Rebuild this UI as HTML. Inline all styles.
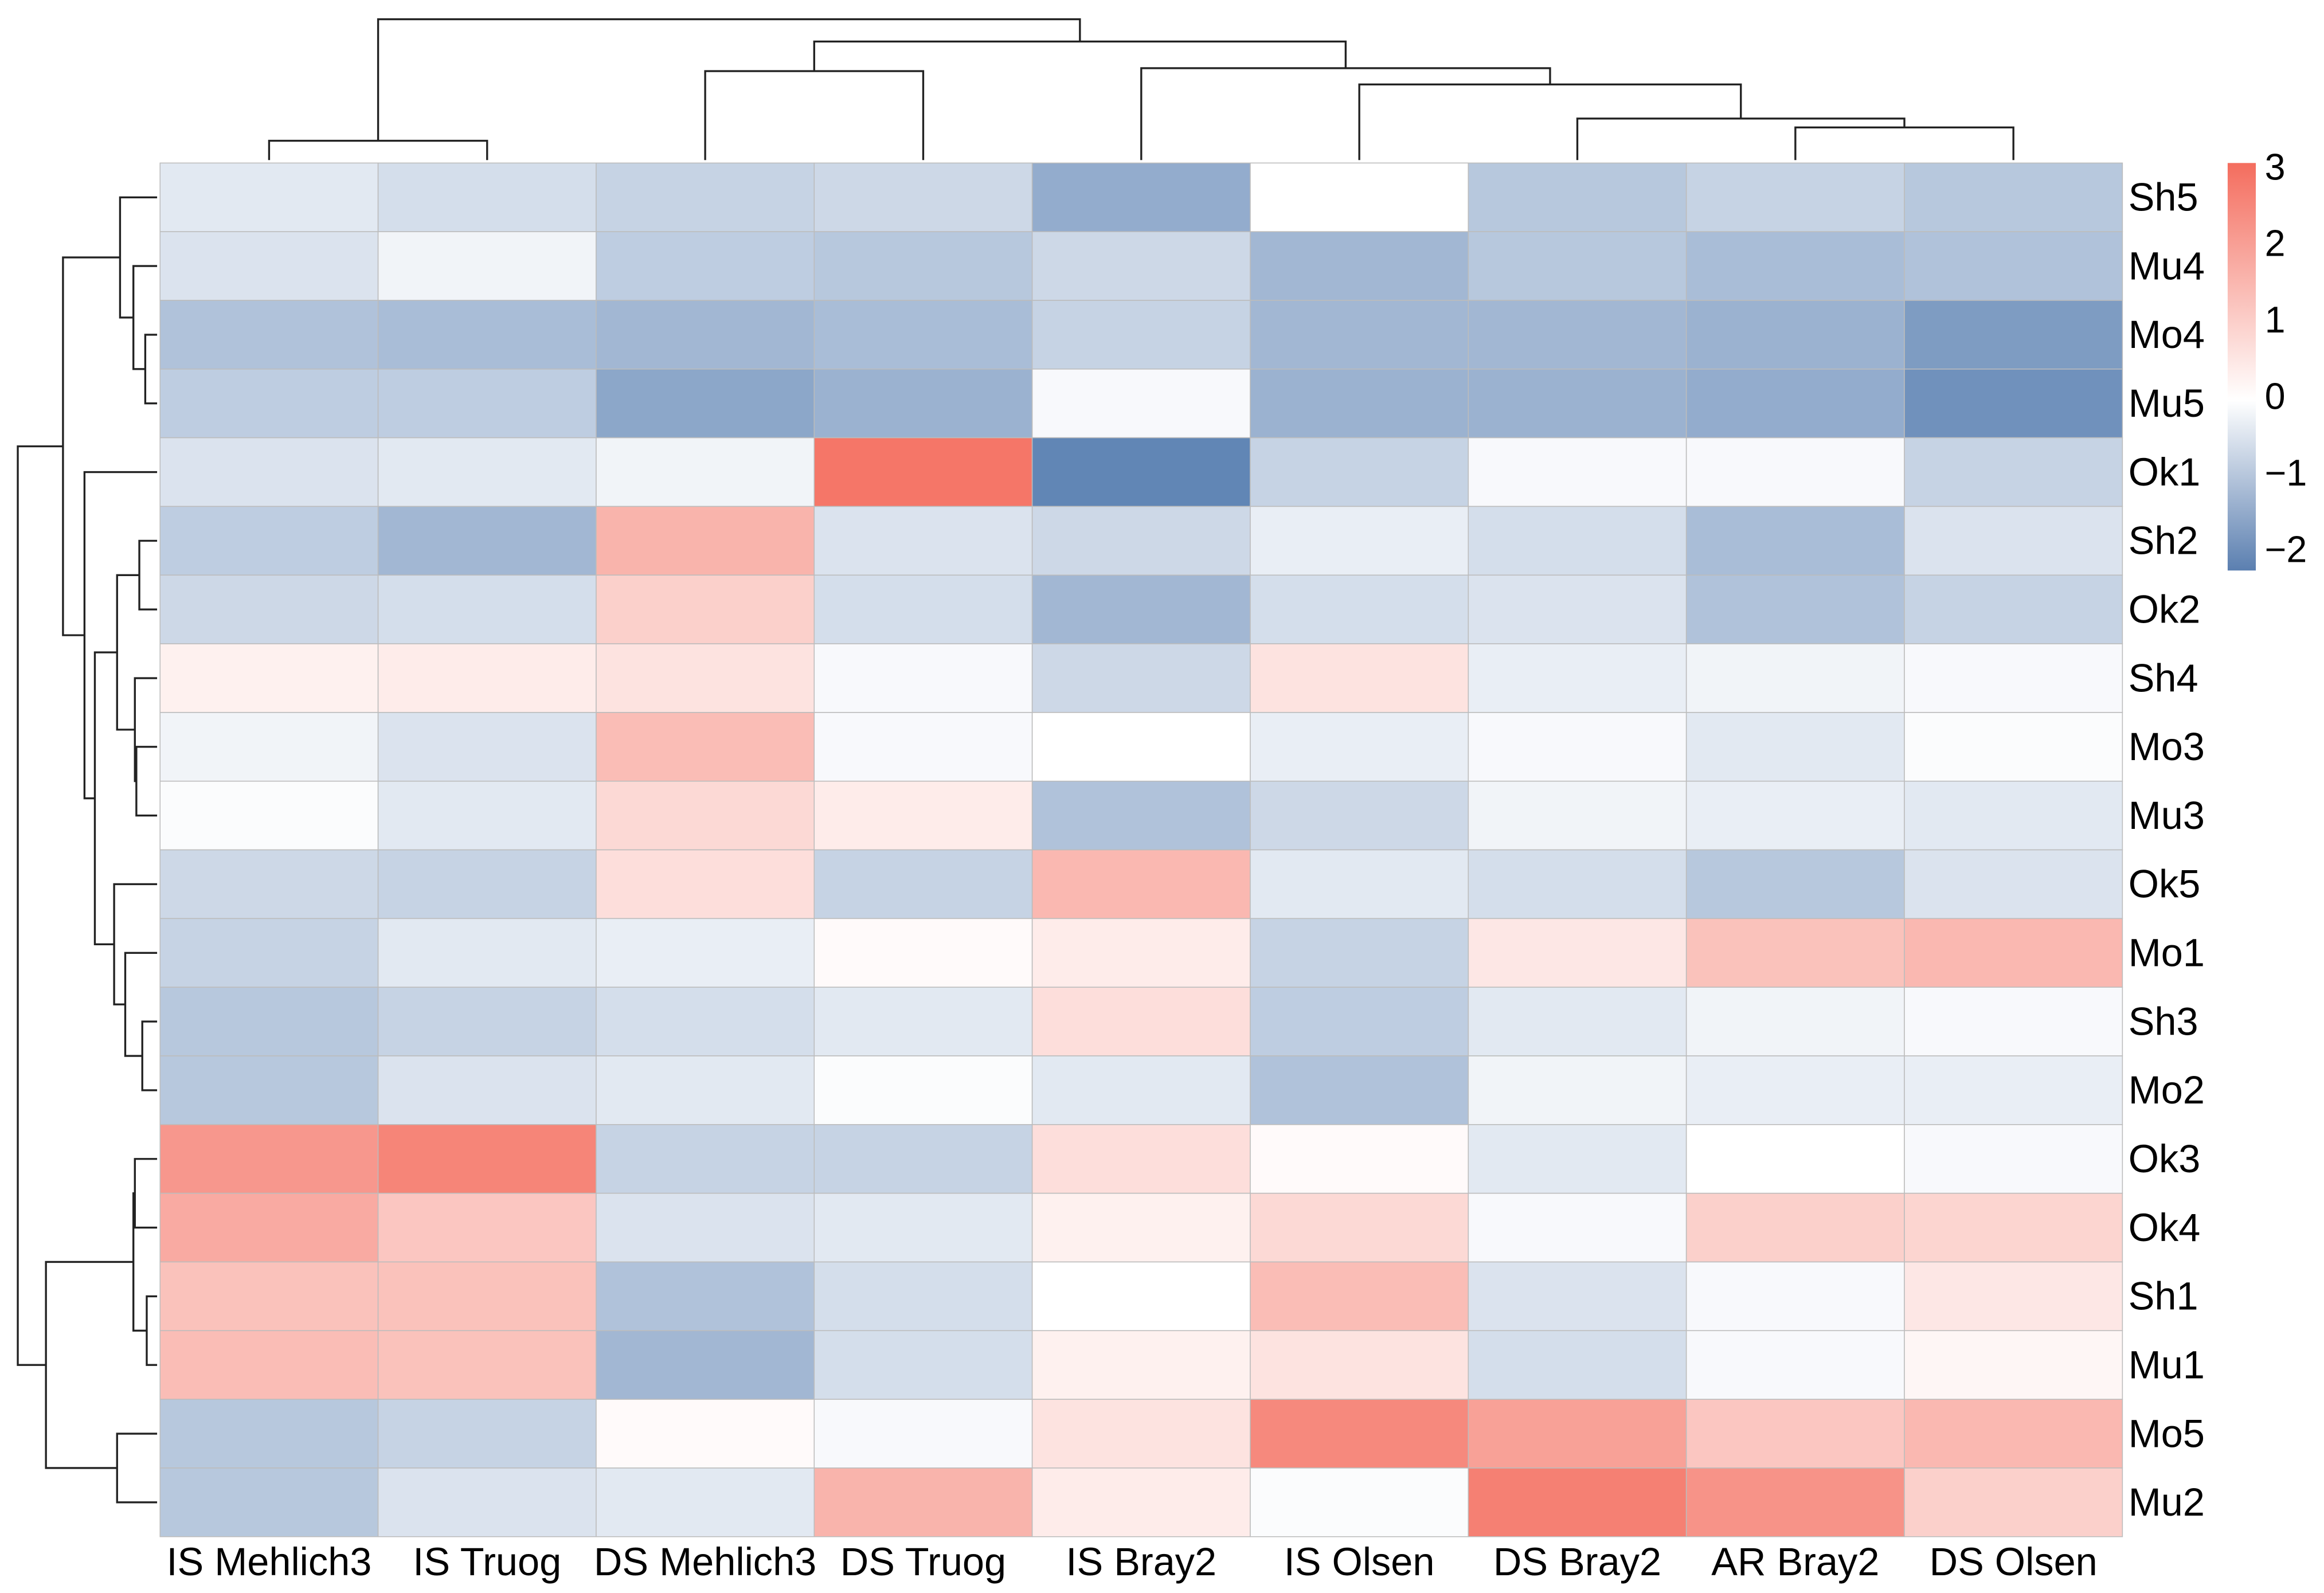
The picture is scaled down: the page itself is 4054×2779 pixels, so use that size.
<!DOCTYPE html>
<html><head><meta charset="utf-8"><style>
html,body{margin:0;padding:0;background:#fff}
svg{display:block}
text{font-family:"Liberation Sans",sans-serif;fill:#000}
</style></head><body>
<svg id="chart" width="4054" height="2779" viewBox="0 0 1568 1075" preserveAspectRatio="none" xmlns="http://www.w3.org/2000/svg">
<defs><linearGradient id="cg" x1="0" y1="1" x2="0" y2="0">
<stop offset="0" stop-color="#5b7fb0"/><stop offset="0.418" stop-color="#ffffff"/><stop offset="1" stop-color="#f46d5e"/>
</linearGradient></defs>
<g id="cells"></g>
<g id="dendro" fill="none" stroke="#222" stroke-width="1.3"></g>
<g id="labels" font-size="26.5"></g>
<rect x="1503" y="110" width="19" height="275" fill="url(#cg)"/>
<g id="cbticks" font-size="25"></g>
</svg>
<script>
const cols=["IS Mehlich3","IS Truog","DS Mehlich3","DS Truog","IS Bray2","IS Olsen","DS Bray2","AR Bray2","DS Olsen"];
const rows=["Sh5","Mu4","Mo4","Mu5","Ok1","Sh2","Ok2","Sh4","Mo3","Mu3","Ok5","Mo1","Sh3","Mo2","Ok3","Ok4","Sh1","Mu1","Mo5","Mu2"];
const values=[
[-0.4,-0.6,-0.8,-0.7,-1.5,0.0,-1.0,-0.8,-1.0],
[-0.5,-0.2,-0.9,-1.0,-0.7,-1.3,-1.0,-1.2,-1.1],
[-1.1,-1.2,-1.3,-1.2,-0.8,-1.3,-1.3,-1.4,-1.8],
[-0.9,-0.9,-1.6,-1.4,-0.1,-1.4,-1.4,-1.5,-2.0],
[-0.5,-0.4,-0.2,2.9,-2.2,-0.8,-0.1,-0.1,-0.8],
[-0.9,-1.3,1.6,-0.5,-0.7,-0.3,-0.6,-1.2,-0.5],
[-0.7,-0.6,1.0,-0.6,-1.3,-0.6,-0.5,-1.1,-0.8],
[0.3,0.4,0.6,-0.1,-0.7,0.6,-0.3,-0.2,-0.1],
[-0.2,-0.5,1.4,-0.1,0.0,-0.3,-0.1,-0.4,-0.05],
[-0.05,-0.4,0.8,0.4,-1.1,-0.7,-0.2,-0.3,-0.4],
[-0.7,-0.8,0.7,-0.8,1.5,-0.4,-0.6,-1.0,-0.5],
[-0.8,-0.4,-0.3,0.1,0.4,-0.8,0.5,1.3,1.5],
[-1.0,-0.8,-0.6,-0.4,0.7,-0.9,-0.4,-0.2,-0.1],
[-1.0,-0.5,-0.4,-0.05,-0.4,-1.1,-0.2,-0.3,-0.3],
[2.2,2.6,-0.8,-0.8,0.7,0.1,-0.4,0.0,-0.1],
[1.8,1.2,-0.5,-0.4,0.3,0.8,-0.1,1.0,0.9],
[1.3,1.3,-1.1,-0.6,0.0,1.4,-0.5,-0.1,0.5],
[1.4,1.3,-1.3,-0.6,0.3,0.6,-0.6,-0.1,0.2],
[-1.0,-0.8,0.1,-0.1,0.6,2.5,2.0,1.2,1.5],
[-1.0,-0.5,-0.4,1.6,0.4,-0.05,2.7,2.3,1.0]];
const cbTicks=[3,2,1,0,-1,-2];
const cbTickLabels=["3","2","1","0","\u22121","\u22122"];
const colMerges=[[0,1,95],[2,3,48],[7,8,86],[6,"n2",80],[5,"n3",57],[4,"n4",46],["n1","n5",28],["n0","n6",13]];
const rowMerges=[[2,3,98],[1,"n0",90],[0,"n1",81],[5,6,94],[8,9,92],[7,"n4",91],["n3","n5",79],[12,13,96],[11,"n7",84.5],[10,"n8",77],["n6","n9",64],[4,"n10",57],["n2","n11",42.5],[14,15,91],[16,17,99],["n13","n14",90],[18,19,79],["n15","n16",31],["n12","n17",12]];

const X0=108,X1=1432,Y0=110,Y1=1037;
const cw=(X1-X0)/cols.length, rh=(Y1-Y0)/rows.length;
const xc=i=>X0+cw*(i+0.5), yc=j=>Y0+rh*(j+0.5);
const VMIN=-2.23,VMAX=3.1;
function lerp(a,b,t){return a.map((c,i)=>Math.round(c+(b[i]-c)*t));}
function color(v){const B=[95,132,180],W=[255,255,255],R=[244,109,94];
 let c; if(v<0)c=lerp(W,B,Math.min(1,-v/(-VMIN))); else c=lerp(W,R,Math.min(1,v/VMAX));
 return `rgb(${c[0]},${c[1]},${c[2]})`;}
const NS="http://www.w3.org/2000/svg";
function mk(t,a){const e=document.createElementNS(NS,t);for(const k in a)e.setAttribute(k,a[k]);return e;}
const gc=document.getElementById('cells');
values.forEach((r,j)=>r.forEach((v,i)=>{
 const e=mk('rect',{x:X0+cw*i,y:Y0+rh*j,width:cw,height:rh,fill:color(v),stroke:'#bcbcbc','stroke-width':0.6});
 
 
 gc.appendChild(e);}));
const gl=document.getElementById('labels');
cols.forEach((c,i)=>{const t=mk('text',{x:xc(i),y:1063,'text-anchor':'middle'});t.textContent=c;
 
 
 gl.appendChild(t);});
rows.forEach((r,j)=>{const t=mk('text',{x:1436,y:yc(j)+9});t.textContent=r;
 
 
 gl.appendChild(t);});
const gt=document.getElementById('cbticks');
cbTicks.forEach((v,k)=>{const y=270-51.6*v;
 const t=mk('text',{x:1528,y:y+6});t.textContent=cbTickLabels[k];
 
 
 gt.appendChild(t);});
const gd=document.getElementById('dendro');
function drawDendro(merges,pos,leafH,vertical,name){
 const nodes=[];
 const get=k=>typeof k==='number'?{p:pos(k),h:leafH}:nodes[+k.slice(1)];
 merges.forEach(m=>{const a=get(m[0]),b=get(m[1]),h=m[2];
  let d; if(vertical) d=`M${a.p},${a.h}V${h}H${b.p}V${b.h}`; else d=`M${a.h},${a.p}H${h}V${b.p}H${b.h}`;
  const e=mk('path',{d});
  
  
  gd.appendChild(e);
  nodes.push({p:(a.p+b.p)/2,h});});
}
drawDendro(colMerges,xc,108,true,'column-dendrogram-branch');
drawDendro(rowMerges,yc,106,false,'row-dendrogram-branch');
</script>
</body></html>
